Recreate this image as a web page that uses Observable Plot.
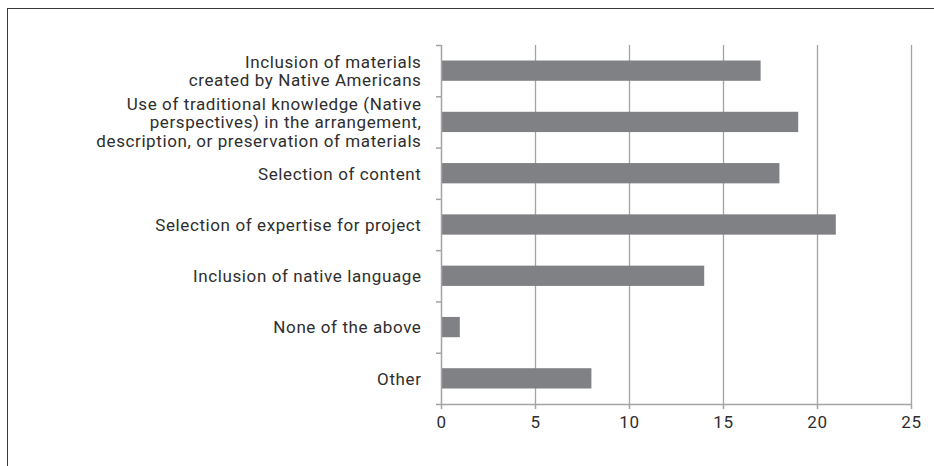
<!DOCTYPE html>
<html>
<head>
<meta charset="utf-8">
<script src="https://cdn.jsdelivr.net/npm/d3@7"></script>
<script src="https://cdn.jsdelivr.net/npm/@observablehq/plot@0.6"></script>
<style>
  html, body { margin: 0; padding: 0; background: #fff; }
  #wrap { position: relative; width: 934px; height: 466px; overflow: hidden; }
  #frame { position: absolute; left: 7px; top: 8px; right: -5px; bottom: -5px;
           border-top: 1.5px solid #3a3a3a; border-left: 1.5px solid #3a3a3a; pointer-events: none; }
  #chart { position: absolute; left: 0; top: 0; }
</style>
</head>
<body>
<div id="wrap"><div id="chart"></div><div id="frame"></div></div>
<script>
const categories = [
  "Inclusion of materials created by Native Americans",
  "Use of traditional knowledge (Native perspectives) in the arrangement, description, or preservation of materials",
  "Selection of content",
  "Selection of expertise for project",
  "Inclusion of native language",
  "None of the above",
  "Other"
];
const labels = [
  "Inclusion of materials\ncreated by Native Americans",
  "Use of traditional knowledge (Native\nperspectives) in the arrangement,\ndescription, or preservation of materials",
  "Selection of content",
  "Selection of expertise for project",
  "Inclusion of native language",
  "None of the above",
  "Other"
];
const values = [17, 19, 18, 21, 14, 1, 8];
const xTicks = [0, 5, 10, 15, 20, 25];
const gridTicks = [5, 10, 15, 20, 25];

const data = categories.map((c, i) => ({category: c, label: labels[i], value: values[i], i}));
const yTicks = d3.range(categories.length + 1);

const barColor = "#808184";
const gridColor = "#a3a3a3";
const textColor = "#2e2e2e";
const font = "Roboto, 'Noto Sans', sans-serif";

const chart = Plot.plot({
  width: 934,
  height: 466,
  marginLeft: 441,
  marginRight: 23,
  marginTop: 45,
  marginBottom: 62,
  style: {fontFamily: font, fontSize: "17px", letterSpacing: "0.6px", color: textColor, background: "transparent"},
  x: {domain: [0, 25]},
  y: {domain: [0, categories.length], reverse: true},
  marks: [
    Plot.ruleX(gridTicks, {y1: 0, y2: categories.length, stroke: gridColor, strokeWidth: 1.3}),
    Plot.rect(data, {
      x1: 0, x2: "value",
      y1: "i", y2: d => d.i + 1,
      insetTop: 15.5, insetBottom: 15.5,
      fill: barColor
    }),
    Plot.ruleX([0], {y1: 0, y2: categories.length, stroke: gridColor, strokeWidth: 1.5}),
    Plot.ruleY([categories.length], {x1: 0, x2: 25, stroke: gridColor, strokeWidth: 1.5}),
    Plot.axisY({ticks: yTicks, tickFormat: () => "", tickSize: 5, stroke: gridColor, strokeWidth: 1.5, label: null}),
    Plot.axisX({ticks: xTicks, tickSize: 5, tickPadding: 6, stroke: gridColor, strokeWidth: 1.5,
                fill: textColor, fontSize: 17, label: null}),
    Plot.text(data, {
      x: 0, y: d => d.i + 0.5, text: "label",
      dx: -20, textAnchor: "end", lineHeight: 1.08,
      fill: textColor, fontSize: 17
    })
  ]
});
document.getElementById("chart").appendChild(chart);
</script>
</body>
</html>
